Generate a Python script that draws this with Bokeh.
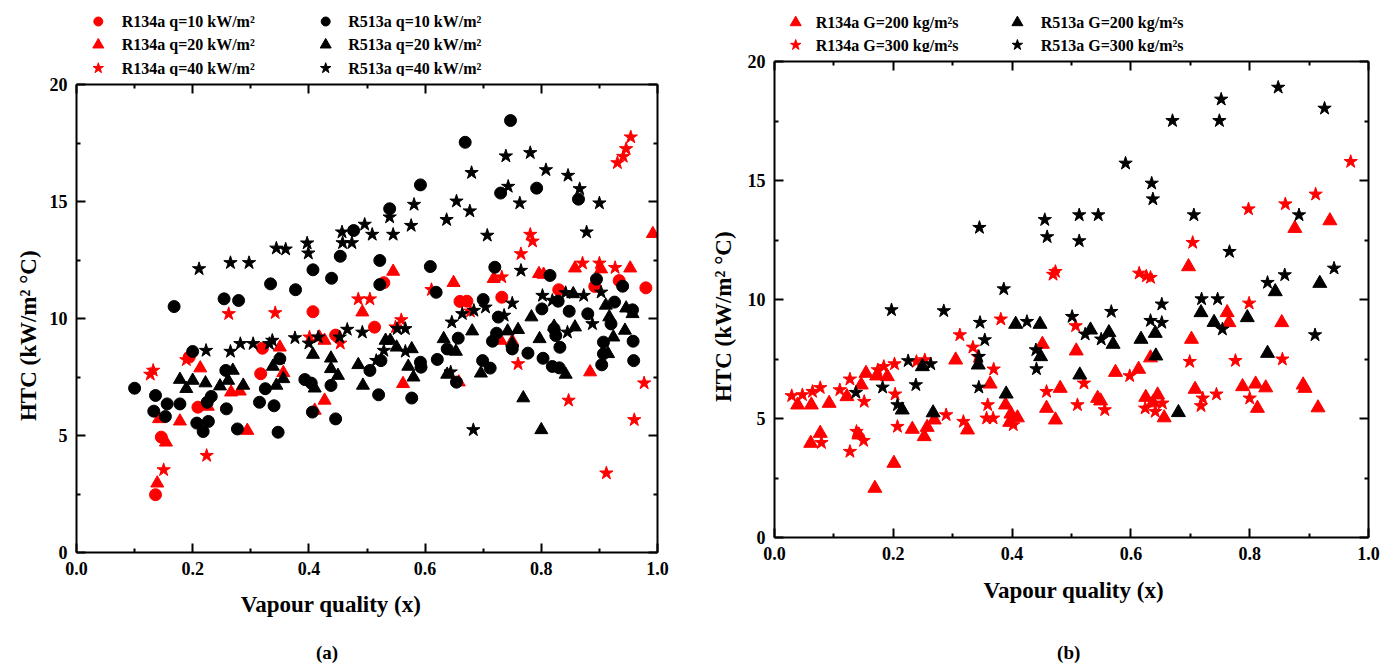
from bokeh.plotting import figure
from bokeh.models import LinearAxis, FixedTicker, Range1d
from bokeh.core.properties import value
from bokeh.layouts import row, column
from bokeh.embed import file_html
from bokeh.resources import INLINE

# ---------------- Panel (a) data ----------------
a_r134a_q10_x = [0.407, 0.529, 0.660, 0.672, 0.732, 0.830, 0.892, 0.934, 0.980, 0.136, 0.146, 0.209,
                 0.320, 0.317, 0.194, 0.513, 0.446]
a_r134a_q10_y = [10.29, 11.53, 10.73, 10.74, 10.91, 11.23, 11.37, 11.62, 11.31, 2.47, 4.93, 6.21,
                 8.73, 7.64, 8.35, 9.63, 9.29]

a_r134a_q20_x = [0.492, 0.992, 0.858, 0.903, 0.953, 0.545, 0.649, 0.718, 0.796, 0.804, 0.139, 0.154,
                 0.142, 0.178, 0.213, 0.350, 0.356, 0.294, 0.418, 0.427, 0.427, 0.410, 0.266, 0.281,
                 0.226, 0.562, 0.658, 0.730, 0.750, 0.884]
a_r134a_q20_y = [10.27, 13.62, 12.15, 12.11, 12.15, 12.01, 11.53, 11.70, 11.91, 11.88, 2.96, 4.71,
                 5.71, 5.61, 7.88, 8.77, 7.68, 5.21, 9.20, 9.06, 6.50, 6.07, 6.85, 6.89,
                 6.24, 7.21, 7.28, 9.06, 9.03, 7.71]

a_r134a_q40_x = [0.262, 0.342, 0.485, 0.505, 0.954, 0.946, 0.941, 0.931, 0.781, 0.785, 0.765, 0.871,
                 0.900, 0.927, 0.732, 0.611, 0.559, 0.678, 0.150, 0.127, 0.132, 0.189, 0.224, 0.401,
                 0.454, 0.549, 0.760, 0.847, 0.977, 0.960, 0.912]
a_r134a_q40_y = [10.20, 10.24, 10.83, 10.83, 17.75, 17.25, 16.92, 16.65, 13.59, 13.30, 12.76, 12.36,
                 12.36, 12.17, 11.77, 11.23, 9.94, 10.31, 3.53, 7.61, 7.78, 8.23, 4.14, 9.20,
                 8.94, 9.63, 8.06, 6.50, 7.24, 5.67, 3.39]

a_r513a_q10_x = [0.168, 0.254, 0.279, 0.334, 0.377, 0.407, 0.439, 0.454, 0.477,
                 0.747, 0.669, 0.592, 0.539, 0.730, 0.792, 0.864, 0.522, 0.522, 0.609, 0.619, 0.720,
                 0.815, 0.895, 0.940, 0.700, 0.801, 0.829, 0.848, 0.880, 0.926, 0.957, 0.726,
                 0.100, 0.136, 0.133, 0.156, 0.153, 0.178, 0.200, 0.207, 0.218, 0.227, 0.225, 0.232,
                 0.258, 0.257, 0.277, 0.315, 0.325, 0.340, 0.347, 0.350, 0.393, 0.404, 0.406, 0.438,
                 0.446, 0.505, 0.520, 0.524, 0.577, 0.592, 0.593, 0.621, 0.638, 0.657, 0.654, 0.699,
                 0.712, 0.716, 0.723, 0.750, 0.777, 0.803, 0.819, 0.831, 0.825, 0.832, 0.822,
                 0.907, 0.907, 0.904, 0.920, 0.958, 0.959]
a_r513a_q10_y = [10.51, 10.84, 10.77, 11.48, 11.23, 12.08, 11.72, 12.66, 13.76,
                 18.46, 17.53, 15.71, 14.69, 15.36, 15.57, 15.10, 12.48, 11.45, 12.22, 11.12, 12.19,
                 11.84, 11.68, 11.38, 10.81, 10.41, 10.74, 10.31, 10.20, 10.70, 10.37, 10.06,
                 7.02, 6.71, 6.04, 6.35, 5.81, 6.35, 8.59, 5.53, 5.17, 5.60, 6.42, 6.67,
                 6.14, 7.78, 5.28, 6.42, 7.00, 6.27, 5.14, 8.28, 7.39, 7.24, 6.00, 7.14,
                 5.71, 7.78, 6.74, 8.20, 6.60, 8.13, 7.92, 8.25, 8.70, 9.16, 7.28, 8.20,
                 7.88, 9.03, 9.37, 8.70, 8.52, 8.30, 7.95, 7.89, 9.27, 8.77, 9.56,
                 8.99, 8.49, 8.02, 9.77, 9.03, 8.20]

a_r513a_q20_x = [0.855, 0.911, 0.946, 0.957, 0.917, 0.783,
                 0.178, 0.189, 0.200, 0.222, 0.247, 0.261, 0.269, 0.287, 0.338, 0.344, 0.356, 0.347,
                 0.407, 0.410, 0.438, 0.438, 0.450, 0.485, 0.493,
                 0.532, 0.540, 0.551, 0.577, 0.571, 0.580, 0.632, 0.653, 0.638, 0.681, 0.696, 0.742,
                 0.760, 0.750, 0.797, 0.822, 0.842, 0.858, 0.924, 0.915, 0.944, 0.769, 0.800]
a_r513a_q20_y = [11.05, 10.56, 10.44, 10.20, 10.06, 10.06,
                 7.39, 7.00, 7.35, 7.24, 7.11, 7.35, 7.78, 7.14, 7.95, 7.14, 7.42, 8.23,
                 8.46, 7.02, 8.30, 7.85, 7.56, 8.02, 7.14,
                 9.06, 9.06, 8.77, 8.70, 7.95, 7.49, 9.13, 8.59, 7.61, 9.46, 7.66, 9.46,
                 9.52, 8.94, 9.13, 9.66, 7.61, 9.63, 9.20, 8.49, 9.49, 6.60, 5.24]

a_r513a_q40_x = [0.211, 0.265, 0.297, 0.344, 0.360, 0.397, 0.399, 0.457, 0.458, 0.474, 0.496, 0.509,
                 0.739, 0.781, 0.680, 0.808, 0.846, 0.866, 0.743, 0.763, 0.900, 0.654, 0.677, 0.637,
                 0.581, 0.576, 0.539, 0.545, 0.707, 0.878, 0.765, 0.802, 0.819, 0.842, 0.873, 0.903,
                 0.750, 0.704, 0.684, 0.664,
                 0.223, 0.265, 0.282, 0.304, 0.332, 0.337, 0.376, 0.400, 0.416, 0.453, 0.466, 0.492,
                 0.516, 0.529, 0.566, 0.552, 0.566, 0.646, 0.644, 0.736, 0.750, 0.845, 0.888, 0.683]
a_r513a_q40_y = [12.12, 12.38, 12.38, 13.00, 12.96, 13.22, 12.79, 13.69, 13.23, 13.23, 14.02, 13.59,
                 16.94, 17.08, 16.23, 16.35, 16.11, 15.54, 15.64, 14.93, 14.93, 15.01, 14.59, 14.22,
                 14.87, 13.97, 14.33, 13.59, 13.55, 13.69, 12.05, 10.98, 10.77, 11.10, 10.98, 11.12,
                 10.65, 10.48, 10.34, 10.20,
                 8.63, 8.59, 8.92, 8.92, 8.92, 9.06, 9.17, 8.94, 9.20, 9.20, 9.53, 9.41,
                 8.20, 8.63, 9.56, 9.56, 8.59, 9.84, 7.71, 10.13, 8.77, 9.41, 9.77, 5.24]

a_labels = ["R134a q=10 kW/m\u00b2", "R134a q=20 kW/m\u00b2", "R134a q=40 kW/m\u00b2",
            "R513a q=10 kW/m\u00b2", "R513a q=20 kW/m\u00b2", "R513a q=40 kW/m\u00b2"]
a_markers = ["circle", "triangle", "star", "circle", "triangle", "star"]
a_colors = ["#ff0000", "#ff0000", "#ff0000", "#000000", "#000000", "#000000"]

# ---------------- Panel (b) data ----------------
b_r134a_g200_x = [0.697, 0.876, 0.935,
                  0.039, 0.062, 0.092, 0.122, 0.077, 0.061, 0.142, 0.146, 0.154, 0.172, 0.190, 0.169,
                  0.201, 0.232, 0.252, 0.257, 0.269, 0.305, 0.325, 0.363, 0.389, 0.398, 0.409, 0.396,
                  0.451, 0.458, 0.473, 0.481,
                  0.508, 0.544, 0.549, 0.574, 0.613, 0.633, 0.625, 0.645, 0.637, 0.656, 0.702, 0.708,
                  0.762, 0.765, 0.788, 0.810, 0.813, 0.827, 0.854, 0.890, 0.893, 0.915]
b_r134a_g200_y = [11.38, 12.99, 13.31,
                  5.57, 5.57, 5.64, 5.92, 4.38, 3.96, 4.31, 6.41, 6.90, 6.79, 6.76, 2.07,
                  3.12, 4.55, 4.24, 4.63, 4.94, 7.46, 4.52, 6.45, 5.57, 5.19, 5.03, 4.84,
                  8.12, 5.43, 4.94, 6.27,
                  7.84, 5.85, 5.74, 6.94, 7.07, 7.55, 5.89, 5.99, 5.66, 5.03, 8.33, 6.23,
                  9.45, 9.03, 6.34, 6.45, 5.43, 6.29, 9.03, 6.41, 6.27, 5.45]

b_r134a_g300_x = [0.473, 0.469,
                  0.970, 0.911, 0.860, 0.798, 0.704, 0.614, 0.633, 0.626,
                  0.029, 0.047, 0.064, 0.077, 0.110, 0.127, 0.151, 0.174, 0.184, 0.202, 0.203, 0.207,
                  0.079, 0.138, 0.150, 0.127, 0.239, 0.253, 0.289, 0.312, 0.334, 0.342, 0.369, 0.359,
                  0.357, 0.368, 0.318, 0.381, 0.402, 0.458,
                  0.507, 0.521, 0.510, 0.556, 0.598, 0.624, 0.641, 0.653, 0.699, 0.718, 0.721, 0.744,
                  0.776, 0.799, 0.800, 0.855]
b_r134a_g300_y = [11.17, 11.05,
                  15.79, 14.42, 14.01, 13.80, 12.39, 11.10, 10.92, 10.98,
                  5.95, 5.99, 6.13, 6.29, 6.20, 6.65, 5.71, 7.04, 7.18, 7.29, 6.02, 4.66,
                  3.98, 4.45, 4.07, 3.61, 7.39, 7.46, 5.15, 8.51, 7.99, 7.60, 7.07, 5.57,
                  5.01, 5.01, 4.87, 9.17, 4.73, 6.13,
                  8.89, 6.48, 5.57, 5.36, 6.79, 5.43, 5.29, 5.64, 7.39, 5.53, 5.85, 6.02,
                  7.43, 9.84, 5.85, 7.49]

b_r513a_g200_x = [0.843, 0.918,
                  0.406, 0.447, 0.448, 0.390, 0.343, 0.249, 0.215, 0.267,
                  0.532, 0.563, 0.570, 0.514, 0.617, 0.641, 0.642, 0.680, 0.718, 0.740, 0.796, 0.830]
b_r513a_g200_y = [10.33, 10.68,
                  8.96, 8.96, 7.60, 6.03, 7.25, 7.18, 5.36, 5.24,
                  8.72, 8.61, 8.12, 6.83, 8.33, 8.58, 7.63, 5.25, 9.45, 9.04, 9.24, 7.74]

b_r513a_g300_x = [0.345, 0.455, 0.459, 0.386,
                  0.848, 0.752, 0.749, 0.670, 0.926, 0.591, 0.635, 0.637, 0.513, 0.545, 0.513, 0.706,
                  0.883, 0.766, 0.830, 0.859, 0.942,
                  0.197, 0.285, 0.346, 0.354, 0.344, 0.344, 0.425, 0.440, 0.441, 0.225, 0.263, 0.182,
                  0.238, 0.137, 0.207,
                  0.501, 0.523, 0.550, 0.567, 0.633, 0.652, 0.652, 0.719, 0.746, 0.754, 0.910]
b_r513a_g300_y = [13.02, 13.35, 12.63, 10.44,
                  18.91, 18.41, 17.51, 17.51, 18.03, 15.72, 14.88, 14.22, 13.55, 13.55, 12.46, 13.55,
                  13.55, 12.01, 10.71, 11.03, 11.31,
                  9.56, 9.52, 9.03, 8.30, 7.60, 6.31, 9.07, 7.88, 7.08, 7.42, 7.29, 6.31,
                  6.41, 6.09, 5.57,
                  9.28, 8.54, 8.33, 9.49, 9.11, 9.80, 9.03, 10.02, 10.02, 8.75, 8.51]

b_labels = ["R134a G=200 kg/m\u00b2s", "R134a G=300 kg/m\u00b2s",
            "R513a G=200 kg/m\u00b2s", "R513a G=300 kg/m\u00b2s"]
b_markers = ["triangle", "star", "triangle", "star"]
b_colors = ["#ff0000", "#ff0000", "#000000", "#000000"]

x_major = [0.0, 0.2, 0.4, 0.6, 0.8, 1.0]
x_minor = [0.1, 0.3, 0.5, 0.7, 0.9]
y_major = [0, 5, 10, 15, 20]
y_minor = [2.5, 7.5, 12.5, 17.5]
x_title = "Vapour quality (x)"
y_title = "HTC (kW/m\u00b2 \u00b0C)"

FONT = "Liberation Serif"
A_SIZE = {"circle": 12, "triangle": 13, "star": 14}
B_SIZE = {"circle": 12, "triangle": 14, "star": 14}
LSIZE = {"circle": 9, "triangle": 11, "star": 11}


def style_axis(ax, show_labels=True):
    ax.axis_line_width = 2
    ax.axis_line_color = "black"
    ax.major_tick_in = 9
    ax.major_tick_out = 0
    ax.minor_tick_in = 4
    ax.minor_tick_out = 0
    ax.major_tick_line_width = 2
    ax.minor_tick_line_width = 2
    ax.major_label_text_font = FONT
    ax.major_label_text_font_style = "bold"
    ax.major_label_text_font_size = "18px"
    ax.major_label_text_color = "black"
    ax.major_label_standoff = 9
    ax.axis_label_text_font = FONT
    ax.axis_label_text_font_style = "bold"
    ax.axis_label_text_font_size = "23px"
    ax.axis_label_text_color = "black"
    if not show_labels:
        ax.major_label_text_font_size = "1px"
        ax.major_label_standoff = 0


def make_fig(fw, fh, bl, br, bt, bb, ylabel_standoff, ylabel_pad):
    p = figure(frame_width=fw, frame_height=fh, min_border_left=bl, min_border_right=br,
               min_border_top=bt, min_border_bottom=bb, output_backend="svg",
               toolbar_location=None, x_range=Range1d(0, 1.0), y_range=Range1d(0, 20),
               x_axis_location=None, y_axis_location=None)
    p.xgrid.visible = False
    p.ygrid.visible = False
    p.outline_line_color = None
    for loc, show in (("below", True), ("above", False)):
        ax = LinearAxis(ticker=FixedTicker(ticks=x_major, minor_ticks=x_minor))
        style_axis(ax, show)
        if show:
            ax.major_label_overrides = {0.0: "0.0", 1.0: "1.0"}
        else:
            ax.major_label_overrides = {t: "" for t in x_major}
        p.add_layout(ax, loc)
    for loc, show in (("left", True), ("right", False)):
        ax = LinearAxis(ticker=FixedTicker(ticks=y_major, minor_ticks=y_minor))
        style_axis(ax, show)
        if show:
            # trailing no-break spaces move the visible title a little lower, as in the original
            ax.axis_label = y_title + "\u00a0" * ylabel_pad
            ax.axis_label_standoff = ylabel_standoff
        else:
            ax.major_label_overrides = {t: "" for t in y_major}
        p.add_layout(ax, loc)
    return p


def strip_fig(w, h):
    s = figure(frame_width=w, frame_height=h, min_border=0, output_backend="svg",
               toolbar_location=None, x_range=Range1d(0, w), y_range=Range1d(0, h),
               x_axis_location=None, y_axis_location=None)
    s.xgrid.visible = False
    s.ygrid.visible = False
    s.outline_line_color = None
    return s


def legend_fig(w, h, labels, markers, colors, colx, textx, rowy):
    s = strip_fig(w, h)
    n = len(rowy)
    for i, lab in enumerate(labels):
        c, r = divmod(i, n)
        s.scatter([colx[c]], [rowy[r]], marker=markers[i], size=LSIZE[markers[i]], color=colors[i])
        s.text([textx[c]], [rowy[r]], text=[lab], text_font=value(FONT), text_font_style="bold",
               text_font_size="16px", text_baseline="middle", text_align="left", text_color="black")
    return s


def bottom_fig(w, h, title_x, title_y, cap_x, cap_y, letter):
    s = strip_fig(w, h)
    s.text([title_x], [title_y], text=[x_title], text_font=value(FONT), text_font_style="bold",
           text_font_size="23px", text_baseline="middle", text_align="center", text_color="black")
    s.text([cap_x], [cap_y], text=["(" + letter + ")"], text_font=value(FONT), text_font_style="bold",
           text_font_size="19px", text_baseline="middle", text_align="center", text_color="black")
    return s


# ---------------- Panel (a) ----------------
leg_a = legend_fig(581, 76, a_labels, a_markers, a_colors, [21.8, 249.2], [45.2, 271.8],
                   [55, 31.7, 8.3])
pa = make_fig(581, 468, 76, 41, 8, 34, 6, 6)
a_series = [(a_r134a_q10_x, a_r134a_q10_y), (a_r134a_q20_x, a_r134a_q20_y),
            (a_r134a_q40_x, a_r134a_q40_y), (a_r513a_q10_x, a_r513a_q10_y),
            (a_r513a_q20_x, a_r513a_q20_y), (a_r513a_q40_x, a_r513a_q40_y)]
for (xs, ys), m, c in zip(a_series, a_markers, a_colors):
    pa.scatter(xs, ys, marker=m, size=A_SIZE[m], color=c)
bot_a = bottom_fig(581, 80, 254.5, 62, 250.5, 14, "a")

# ---------------- Panel (b) ----------------
leg_b = legend_fig(594, 52, b_labels, b_markers, b_colors, [21.2, 242.9], [41.2, 266.2],
                   [30, 7.5])
pb = make_fig(594, 476, 76, 20, 9, 34, 9, 6)
b_series = [(b_r134a_g200_x, b_r134a_g200_y), (b_r134a_g300_x, b_r134a_g300_y),
            (b_r513a_g200_x, b_r513a_g200_y), (b_r513a_g300_x, b_r513a_g300_y)]
for (xs, ys), m, c in zip(b_series, b_markers, b_colors):
    pb.scatter(xs, ys, marker=m, size=B_SIZE[m], color=c)
bot_b = bottom_fig(594, 95, 299.2, 76, 294.2, 14, "b")

layout = row(column(leg_a, pa, bot_a), column(leg_b, pb, bot_b))
open("out.html", "w").write(file_html(layout, INLINE))
